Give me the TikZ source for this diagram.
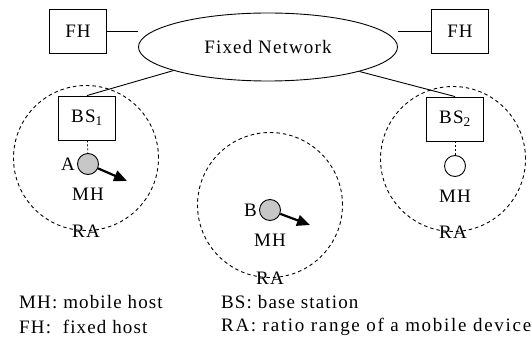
\documentclass[tikz,border=0pt]{standalone}
\usepackage{fontspec}
\setmainfont{Liberation Serif}[LetterSpace=6]
\usetikzlibrary{shapes.geometric, arrows.meta, positioning}
\newcommand\dfont{\fontsize{19}{21}\selectfont}
\tikzset{
  host/.style={rectangle, draw=black, line width=0.9pt, minimum width=57pt, minimum height=44pt, inner sep=0pt, font=\dfont},
  cloud/.style={ellipse, draw=black, line width=0.9pt, minimum width=259pt, minimum height=68pt, font=\dfont},
  cell/.style={circle, draw=black, dashed, dash pattern=on 3.5pt off 3pt, line width=0.9pt, minimum size=145pt},
  mobile/.style={circle, draw=black, line width=0.9pt, minimum size=21pt, inner sep=0pt},
  lbl/.style={inner sep=1pt, font=\dfont},
  link/.style={line width=0.9pt},
  tie/.style={line width=0.7pt, dash pattern=on 2pt off 2pt},
  move/.style={-{Triangle[length=13pt,width=11pt]}, line width=2.2pt},
}
\begin{document}
\begin{tikzpicture}[x=1pt, y=-1pt]
\useasboundingbox (0,0) rectangle (532,339);
% fixed part
\node[cloud] (net) at (268,47) {Fixed Network};
\node[host] (fh1) at (78,31) {FH};
\node[host] (fh2) at (460,31) {FH};
\node[host] (bs1) at (87,118) {BS\textsubscript{1}};
\node[host] (bs2) at (455,119) {BS\textsubscript{2}};
\draw[link] (fh1) -- (fh1 -| net.west) ;
\draw[link] (fh2) -- (fh2 -| net.east);
\draw[link] (net.194) -- (bs1.north);
\draw[link] (net.345) -- (bs2.north);
% radio ranges
\node[cell] (ra1) at (86,158) {};
\node[cell] (ra2) at (270,205) {};
\node[cell] (ra3) at (453,159) {};
\foreach \r in {ra1,ra2,ra3}
  \node[lbl] at ([yshift=-0.5pt]\r.south) {RA};
% mobile hosts
\node[mobile, fill=black!22] (mha) at (88,164) {};
\node[mobile, fill=black!22] (mhb) at (270,210) {};
\node[mobile, fill=white] (mhc) at (455,166) {};
\node[lbl, left=1pt of mha] {A};
\node[lbl, left=1pt of mhb] {B};
\node[lbl, below=11.5pt of mha] {MH};
\node[lbl, below=11.5pt of mhb] {MH};
\node[lbl, below=11.5pt of mhc] {MH};
\draw[tie] (bs1) -- (mha);
\draw[tie] (bs2) -- (mhc);
\coordinate (goa) at (127,181);
\coordinate (gob) at (310,225);
\draw[move] (mha) -- (goa);
\draw[move] (mhb) -- (gob);
% legend
\node[lbl, anchor=west] (k1) at (18,302) {MH: mobile host};
\node[lbl, anchor=west] (k2) at (18,327) {FH:\ \ fixed host};
\node[lbl, anchor=west] (k3) at (220,302) {BS: base station};
\node[lbl, anchor=west] (k4) at (220,327) {\addfontfeature{LetterSpace=9}RA: ratio range of a mobile device};
\end{tikzpicture}
\end{document}
